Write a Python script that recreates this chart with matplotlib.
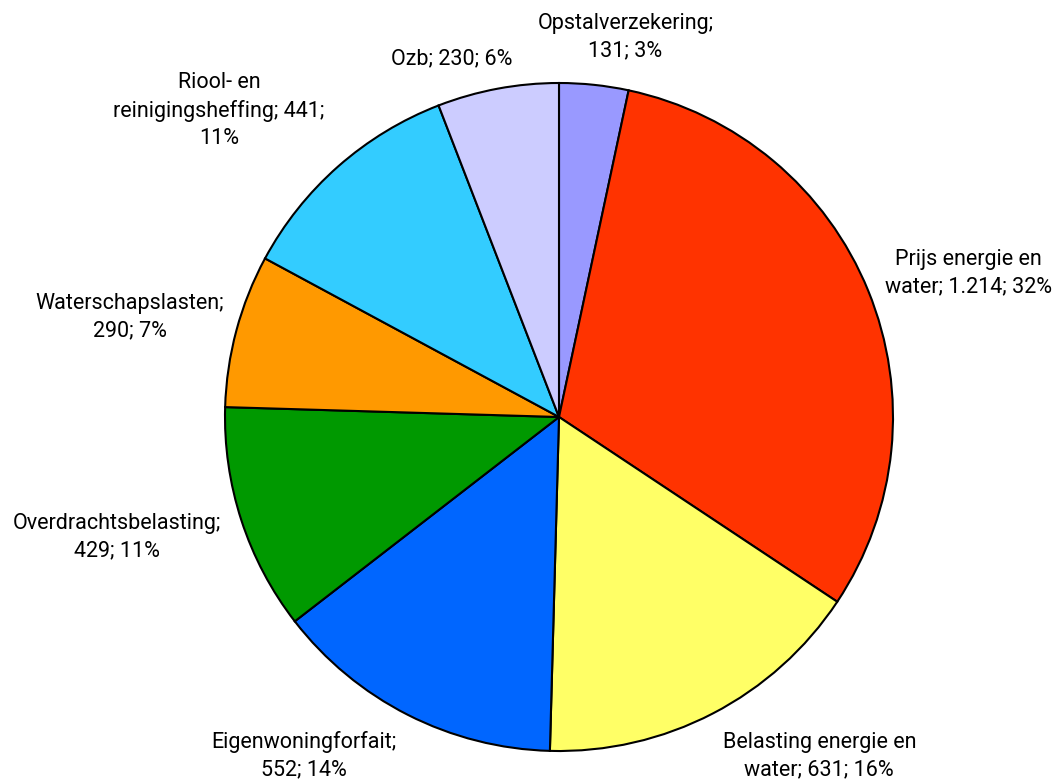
import numpy as np
import matplotlib.pyplot as plt

names = ['Opstalverzekering', 'Prijs energie en water', 'Belasting energie en water',
         'Eigenwoningforfait', 'Overdrachtsbelasting', 'Waterschapslasten',
         'Riool- en reinigingsheffing', 'Ozb']
values = [131, 1214, 631, 552, 429, 290, 441, 230]
value_labels = ['131', '1.214', '631', '552', '429', '290', '441', '230']
pct_labels = ['3%', '32%', '16%', '14%', '11%', '7%', '11%', '6%']
colors = ['#9999FF', '#FF3300', '#FFFF66', '#0066FF', '#009900', '#FF9900', '#33CCFF', '#CCCCFF']

# where the label lines break (as in the original)
breaks = [
    '{n};\n{v}; {p}',
    'Prijs energie en\nwater; {v}; {p}',
    'Belasting energie en\nwater; {v}; {p}',
    '{n};\n{v}; {p}',
    '{n};\n{v}; {p}',
    '{n};\n{v}; {p}',
    'Riool- en\nreinigingsheffing; {v};\n{p}',
    '{n}; {v}; {p}',
]
# label angle (deg clockwise from top) and distance in radius units
label_pos = [(9.9, 1.155), (70.6, 1.30), (142.5, 1.28), (217.0, 1.27),
             (254.8, 1.37), (283.1, 1.32), (312.0, 1.37), (343.3, 1.12)]

plt.rcParams['font.family'] = ['Roboto', 'DejaVu Sans']

fig = plt.figure(figsize=(10.56, 7.83), dpi=100)
r_px = 334
cx, cy = 559, 417
ax = fig.add_axes([(cx - r_px) / 1056, (783 - cy - r_px) / 783, 2 * r_px / 1056, 2 * r_px / 783])

ax.pie(values, colors=colors, startangle=90, counterclock=False,
       wedgeprops=dict(edgecolor='black', linewidth=1.5))
ax.set_xlim(-1, 1)
ax.set_ylim(-1, 1)
ax.set_aspect('equal')

for n, v, p, b, (ang, dist) in zip(names, value_labels, pct_labels, breaks, label_pos):
    a = np.deg2rad(ang)
    ax.text(dist * np.sin(a), dist * np.cos(a), b.format(n=n, v=v, p=p),
            ha='center', va='center', fontsize=15.5, linespacing=1.4, clip_on=False)

fig.savefig('out.png', dpi=100)
